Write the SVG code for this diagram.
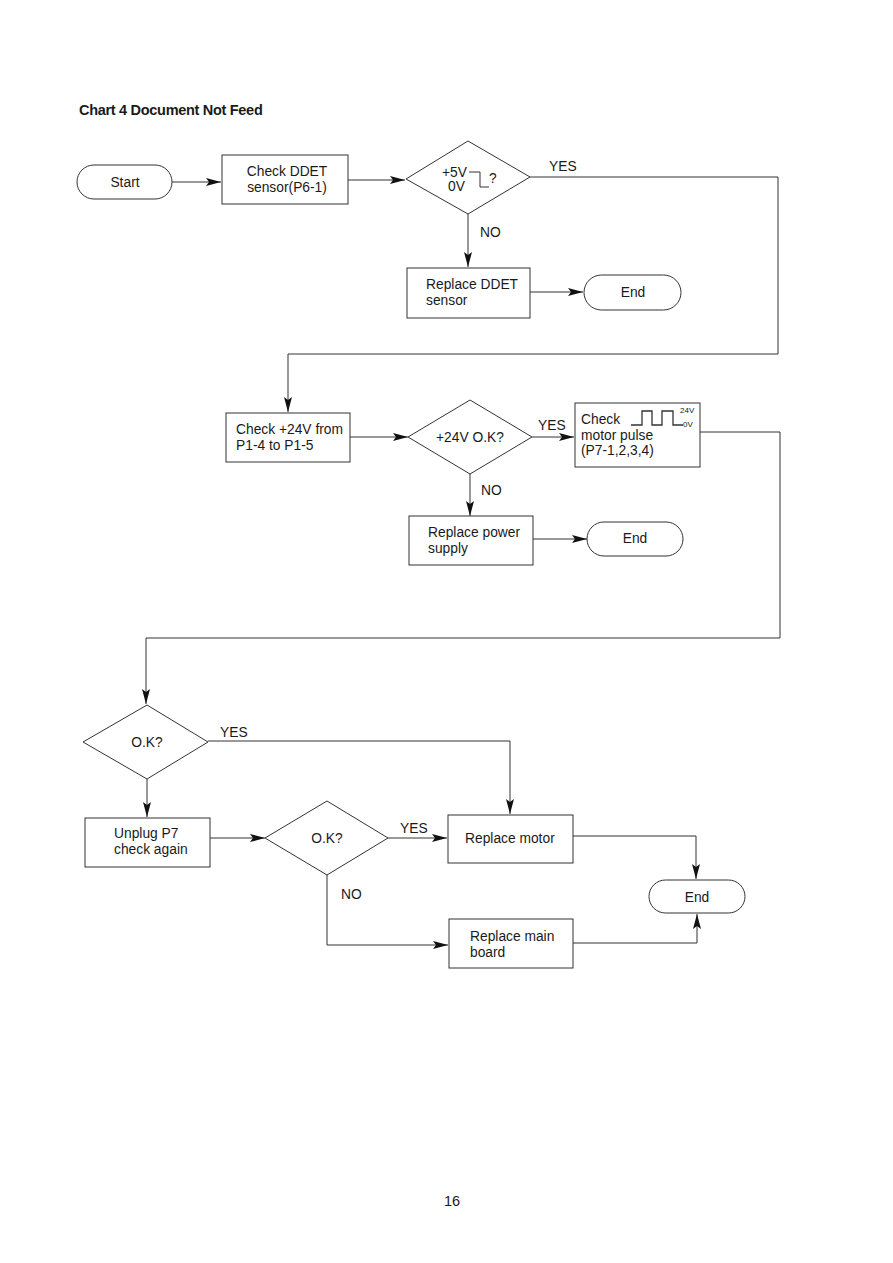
<svg xmlns="http://www.w3.org/2000/svg" width="893" height="1263" viewBox="0 0 893 1263">
<defs>
<marker id="arr" markerWidth="16" markerHeight="10" refX="15" refY="5" orient="auto" markerUnits="userSpaceOnUse">
<path d="M0,1 L15,5 L0,9 L3,5 Z" fill="#111"/>
</marker>
</defs>
<style>
.box{fill:#fff;stroke:#333;stroke-width:1}
.ln{fill:none;stroke:#333;stroke-width:1}
.t{font-family:"Liberation Sans",Arial,sans-serif;font-size:13.8px;fill:#1a1a1a}
.c{text-anchor:middle}
.s{font-size:8px}
</style>
<rect width="893" height="1263" fill="#fff"/>
<text x="79" y="115" class="t" style="font-weight:bold;font-size:14.5px;letter-spacing:-0.3px">Chart 4  Document Not Feed</text>

<g id="connectors">
<path class="ln" d="M172,182 H221" marker-end="url(#arr)"/>
<path class="ln" d="M348,180 H405" marker-end="url(#arr)"/>
<path class="ln" d="M468,214 V267" marker-end="url(#arr)"/>
<path class="ln" d="M530,292 H583" marker-end="url(#arr)"/>
<path class="ln" d="M530,177 H778 V354 H288 V412" marker-end="url(#arr)"/>
<path class="ln" d="M350,437 H408" marker-end="url(#arr)"/>
<path class="ln" d="M532,437 H574" marker-end="url(#arr)"/>
<path class="ln" d="M470,474 V516" marker-end="url(#arr)"/>
<path class="ln" d="M533,539 H587" marker-end="url(#arr)"/>
<path class="ln" d="M700,432 H780 V638 H146 V704" marker-end="url(#arr)"/>
<path class="ln" d="M208,741 H510 V814" marker-end="url(#arr)"/>
<path class="ln" d="M147,779 V817" marker-end="url(#arr)"/>
<path class="ln" d="M210,838 H265" marker-end="url(#arr)"/>
<path class="ln" d="M388,838 H447" marker-end="url(#arr)"/>
<path class="ln" d="M327,875 V945 H448" marker-end="url(#arr)"/>
<path class="ln" d="M573,836 H696 V879" marker-end="url(#arr)"/>
<path class="ln" d="M573,943 H697 V914" marker-end="url(#arr)"/>
<text x="549" y="171" class="t">YES</text>
<text x="480" y="237" class="t">NO</text>
<text x="538" y="430" class="t">YES</text>
<text x="481" y="495" class="t">NO</text>
<text x="220" y="737" class="t">YES</text>
<text x="400" y="833" class="t">YES</text>
<text x="341" y="899" class="t">NO</text>
</g>

<g id="start">
<rect class="box" x="77" y="165" width="95" height="34" rx="17"/>
<text x="125" y="187" class="t c">Start</text>
</g>
<g id="check-ddet">
<rect class="box" x="222" y="155" width="126" height="49"/>
<text x="287" y="176" class="t c">Check DDET</text>
<text x="287" y="192" class="t c">sensor(P6-1)</text>
</g>
<g id="dec-5v">
<polygon class="box" points="406,179 468,141 530,177 468,214"/>
<text x="442" y="177" class="t">+5V</text>
<text x="448" y="191" class="t">0V</text>
<path class="ln" d="M469,172 H480 V187 H489"/>
<text x="489" y="183" class="t">?</text>
</g>
<g id="replace-ddet">
<rect class="box" x="407" y="268" width="123" height="50"/>
<text x="426" y="289" class="t">Replace DDET</text>
<text x="426" y="305" class="t">sensor</text>
</g>
<g id="end1">
<rect class="box" x="584" y="275" width="97" height="35" rx="17.5"/>
<text x="633" y="297" class="t c">End</text>
</g>
<g id="check-24v">
<rect class="box" x="226" y="413" width="124" height="49"/>
<text x="236" y="434" class="t">Check +24V from</text>
<text x="236" y="450" class="t">P1-4 to P1-5</text>
</g>
<g id="dec-24v">
<polygon class="box" points="408,437 470,400 532,437 470,474"/>
<text x="470" y="442" class="t c">+24V O.K?</text>
</g>
<g id="check-pulse">
<rect class="box" x="575" y="403" width="125" height="64"/>
<text x="581" y="424" class="t">Check</text>
<text x="581" y="440" class="t">motor pulse</text>
<text x="581" y="455" class="t">(P7-1,2,3,4)</text>
<path class="ln" d="M631,425 H642 V411 H652 V425 H662 V411 H673 V425 H683" style="stroke-width:1.3"/>
<text x="680" y="413" class="t s">24V</text>
<text x="683" y="427" class="t s">0V</text>
</g>
<g id="replace-power">
<rect class="box" x="409" y="516" width="124" height="49"/>
<text x="428" y="537" class="t">Replace power</text>
<text x="428" y="553" class="t">supply</text>
</g>
<g id="end2">
<rect class="box" x="587" y="522" width="96" height="34" rx="17"/>
<text x="635" y="543" class="t c">End</text>
</g>
<g id="dec-ok1">
<polygon class="box" points="83,742 147,705 208,742 147,779"/>
<text x="147" y="747" class="t c">O.K?</text>
</g>
<g id="unplug-p7">
<rect class="box" x="85" y="818" width="125" height="49"/>
<text x="114" y="838" class="t">Unplug P7</text>
<text x="114" y="854" class="t">check again</text>
</g>
<g id="dec-ok2">
<polygon class="box" points="265,838 327,801 388,838 327,875"/>
<text x="327" y="843" class="t c">O.K?</text>
</g>
<g id="replace-motor">
<rect class="box" x="448" y="815" width="125" height="48"/>
<text x="465" y="843" class="t">Replace motor</text>
</g>
<g id="replace-board">
<rect class="box" x="449" y="919" width="124" height="49"/>
<text x="470" y="941" class="t">Replace main</text>
<text x="470" y="957" class="t">board</text>
</g>
<g id="end3">
<rect class="box" x="649" y="880" width="96" height="33" rx="16.5"/>
<text x="697" y="902" class="t c">End</text>
</g>
<text x="452" y="1206" class="t c" style="font-size:14.5px">16</text>
</svg>
